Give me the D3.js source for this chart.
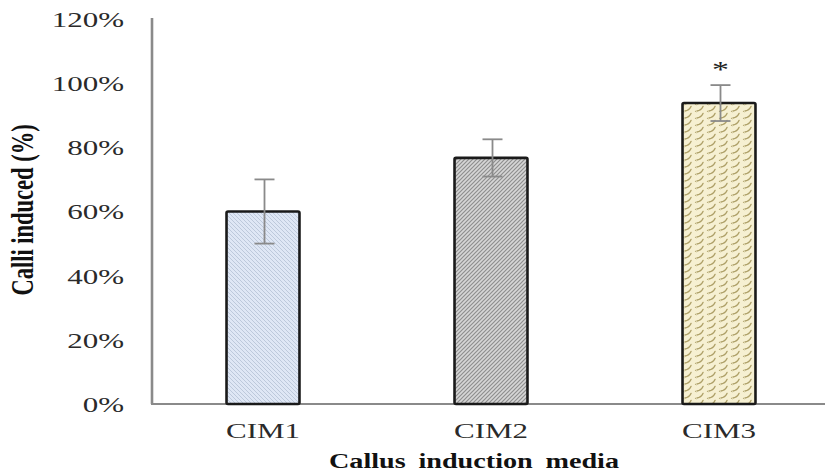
<!DOCTYPE html>
<html>
<head>
<meta charset="utf-8">
<script src="https://cdn.jsdelivr.net/npm/d3@7"></script>
<style>
  html, body { margin: 0; padding: 0; background: #fff; }
  svg { display: block; }
  text { font-family: "Liberation Serif", "Times New Roman", serif; }
</style>
</head>
<body>
<svg id="chart" width="825" height="476"></svg>
<script>
// Callus induction results per medium
const media = ["CIM1", "CIM2", "CIM3"];
const calliInduced = [60, 76.7, 93.8];      // percent
const stdError = [10, 5.8, 5.6];            // percent
const significance = ["", "", "*"];
const yTicks = [0, 20, 40, 60, 80, 100, 120];

const W = 825, H = 476;
const sx = 1.41; // horizontal text stretch
const svg = d3.select("#chart");

const y = d3.scaleLinear().domain([0, 120]).range([404, 19]);
const x = d3.scaleBand().domain(media).range([149, 833])
  .paddingInner(0.68).paddingOuter(0.34);

// Fill patterns for the three bars
const defs = svg.append("defs");

const p1 = defs.append("pattern").attr("id", "fill-cim1")
  .attr("patternUnits", "userSpaceOnUse").attr("width", 4).attr("height", 4);
p1.append("rect").attr("width", 4).attr("height", 4).attr("fill", "#dfe7f5");
p1.append("path").attr("d", "M-1,-1 L5,5 M-1,3 L1,5 M3,-1 L5,1")
  .attr("stroke", "#b9c5d8").attr("stroke-width", 0.9);

const p2 = defs.append("pattern").attr("id", "fill-cim2")
  .attr("patternUnits", "userSpaceOnUse").attr("width", 4).attr("height", 4);
p2.append("rect").attr("width", 4).attr("height", 4).attr("fill", "#d6d6d6");
p2.append("path").attr("d", "M-1,5 L5,-1 M-1,1 L1,-1 M3,5 L5,3")
  .attr("stroke", "#8e8e8e").attr("stroke-width", 1.2);

const p3 = defs.append("pattern").attr("id", "fill-cim3")
  .attr("patternUnits", "userSpaceOnUse").attr("width", 12).attr("height", 7);
p3.append("rect").attr("width", 12).attr("height", 7).attr("fill", "#f6f0d2");
p3.append("path")
  .attr("d", "M1,6 Q5,5.5 7,1.5 M7,9.5 Q11,9 13,5 M-5,2.5 Q-1,2 1,-2 M13,6 Q17,5.5 19,1.5")
  .attr("fill", "none").attr("stroke", "#ad9f66").attr("stroke-width", 1.4)
  .attr("stroke-linecap", "round");

// Axes
svg.append("line")
  .attr("x1", 152).attr("x2", 152).attr("y1", 18).attr("y2", y(0))
  .attr("stroke", "#8a8a8a").attr("stroke-width", 2.6);
svg.append("line")
  .attr("x1", 151).attr("x2", W).attr("y1", y(0)).attr("y2", y(0))
  .attr("stroke", "#8a8a8a").attr("stroke-width", 2.2);

const yAxis = svg.append("g")
  .attr("transform", "translate(152,0)")
  .call(d3.axisLeft(y).tickValues(yTicks).tickSize(0).tickFormat(d => d + "%"));
yAxis.select(".domain").remove();
yAxis.selectAll("text")
  .attr("x", 0).attr("dy", "0.34em")
  .attr("transform", `translate(-28,0) scale(${sx},1)`)
  .attr("font-size", 22).attr("font-family", "Liberation Serif, Times New Roman, serif")
  .attr("fill", "#2a2a2a");

const xAxis = svg.append("g")
  .attr("transform", `translate(0,${y(0)})`)
  .call(d3.axisBottom(x).tickSize(0));
xAxis.select(".domain").remove();
xAxis.selectAll("text")
  .attr("y", 0).attr("dy", 0)
  .attr("transform", `translate(0,34) scale(${sx},1)`)
  .attr("font-size", 22).attr("font-family", "Liberation Serif, Times New Roman, serif")
  .attr("fill", "#2a2a2a");

// Bars
const rows = media.map((m, i) => ({ m, v: calliInduced[i], e: stdError[i], s: significance[i], i }));

svg.append("g").selectAll("rect").data(rows).join("rect")
  .attr("x", d => x(d.m))
  .attr("y", d => y(d.v))
  .attr("width", x.bandwidth())
  .attr("height", d => y(0) - y(d.v))
  .attr("fill", d => `url(#fill-cim${d.i + 1})`)
  .attr("stroke", "#1a1a1a").attr("stroke-width", 2.6)
  .attr("rx", 1.5);

// Error bars
const eb = svg.append("g").selectAll("g").data(rows).join("g")
  .attr("stroke", "#8a8a8a").attr("stroke-width", 1.8);
const cx = d => x(d.m) + x.bandwidth() / 2 + 1.5;
eb.append("line")
  .attr("x1", cx).attr("x2", cx)
  .attr("y1", d => y(d.v + d.e)).attr("y2", d => y(d.v - d.e));
eb.append("line")
  .attr("x1", d => cx(d) - 10).attr("x2", d => cx(d) + 10)
  .attr("y1", d => y(d.v + d.e)).attr("y2", d => y(d.v + d.e));
eb.append("line")
  .attr("x1", d => cx(d) - 10).attr("x2", d => cx(d) + 10)
  .attr("y1", d => y(d.v - d.e)).attr("y2", d => y(d.v - d.e));

// Significance marks
svg.append("g").selectAll("text").data(rows.filter(d => d.s)).join("text")
  .attr("transform", d => `translate(${cx(d)},${y(d.v + d.e) - 8}) scale(${sx},1)`)
  .attr("text-anchor", "middle")
  .attr("font-size", 24).attr("fill", "#222")
  .text(d => d.s);

// Axis titles
svg.append("text")
  .attr("transform", `translate(474,468) scale(${sx},1)`)
  .attr("text-anchor", "middle")
  .attr("font-size", 20).attr("font-weight", "bold").attr("fill", "#111")
  .attr("word-spacing", 4)
  .text("Callus induction media");

svg.append("text")
  .attr("transform", `translate(33,210) scale(${sx},1) rotate(-90)`)
  .attr("text-anchor", "middle")
  .attr("font-size", 22.5).attr("font-weight", "bold").attr("fill", "#111")
  .text("Calli induced (%)");
</script>
</body>
</html>
